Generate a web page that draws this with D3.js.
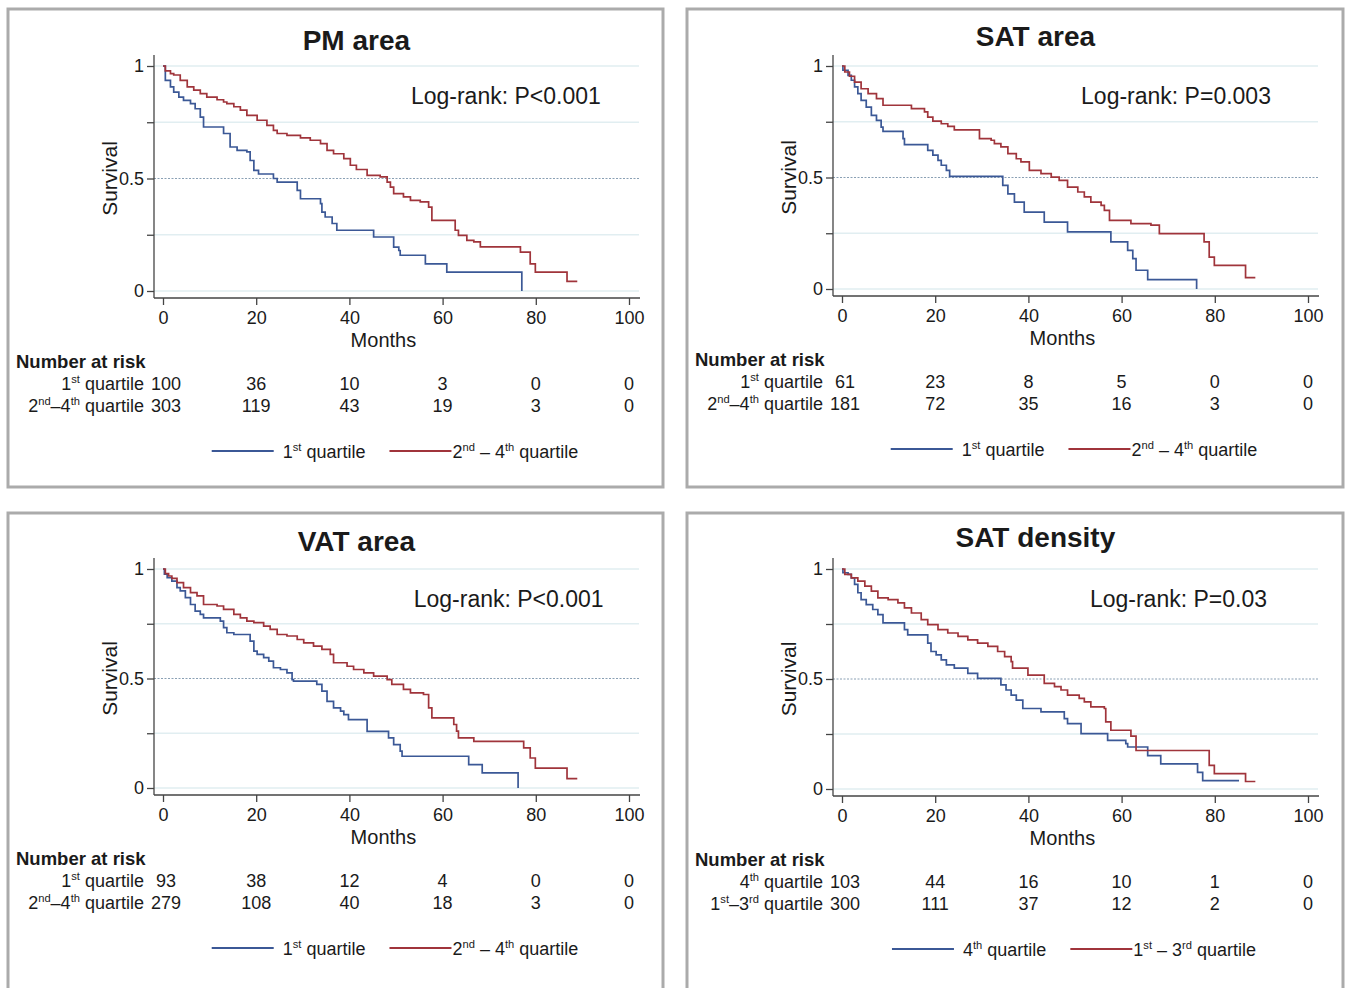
<!DOCTYPE html>
<html>
<head>
<meta charset="utf-8">
<script src="https://cdn.jsdelivr.net/npm/d3@7"></script>
<style>
  body { margin: 0; background: #fff; }
  svg { display: block; }
  text { font-family: "Liberation Sans", Arial, Helvetica, sans-serif; fill: #1a1a1a; }
</style>
</head>
<body>
<svg id="chart" width="1349" height="988"></svg>
<script>
// ---- data ----
const timeTicks = [0, 20, 40, 60, 80, 100];
const survTicks = [0, 0.25, 0.5, 0.75, 1];

const titles = ['PM area', 'SAT area', 'VAT area', 'SAT density'];
const pTexts = ['Log-rank: P<0.001', 'Log-rank: P=0.003', 'Log-rank: P<0.001', 'Log-rank: P=0.03'];

// {..} marks a superscript
const riskLabels = [
    ['1{st} quartile', '2{nd}–4{th} quartile'],
    ['1{st} quartile', '2{nd}–4{th} quartile'],
    ['1{st} quartile', '2{nd}–4{th} quartile'],
    ['4{th} quartile', '1{st}–3{rd} quartile']
];
const legendLabels = [
    ['1{st} quartile', '2{nd} – 4{th} quartile'],
    ['1{st} quartile', '2{nd} – 4{th} quartile'],
    ['1{st} quartile', '2{nd} – 4{th} quartile'],
    ['4{th} quartile', '1{st} – 3{rd} quartile']
];

const riskBlue = [
    [100, 36, 10, 3, 0, 0],
    [61, 23, 8, 5, 0, 0],
    [93, 38, 12, 4, 0, 0],
    [103, 44, 16, 10, 1, 0]
];
const riskRed = [
    [303, 119, 43, 19, 3, 0],
    [181, 72, 35, 16, 3, 0],
    [279, 108, 40, 18, 3, 0],
    [300, 111, 37, 12, 2, 0]
];

// [month, survival] step points
const pmBlue = [[0,1],[0.5,0.936],[1.6,0.907],[2.3,0.884],[3.4,0.862],[4.4,0.847],[5.9,0.833],[6.9,0.81],[8.0,0.773],[8.7,0.729],[13.0,0.70],[14.4,0.64],[15.9,0.625],[18.0,0.618],[18.7,0.58],[19.5,0.536],[20.5,0.52],[23.7,0.50],[24.5,0.484],[28.8,0.447],[29.5,0.41],[33.8,0.388],[34.1,0.351],[34.8,0.329],[36.3,0.30],[37.3,0.27],[45.2,0.24],[49.5,0.195],[50.6,0.18],[50.9,0.159],[56.3,0.121],[60.9,0.084],[77.0,0]];
const pmRed = [[0,1],[0.5,0.978],[1.6,0.966],[2.3,0.96],[3.7,0.936],[5.2,0.907],[6.6,0.893],[8.0,0.877],[9.4,0.862],[11.6,0.85],[13.0,0.84],[13.7,0.833],[15.2,0.819],[16.6,0.804],[18.0,0.781],[20.2,0.759],[22.3,0.736],[23.7,0.714],[24.5,0.70],[26.6,0.692],[29.5,0.681],[31.6,0.67],[33.8,0.655],[35.2,0.625],[36.6,0.61],[38.8,0.588],[40.2,0.559],[41.5,0.54],[43.8,0.514],[46.6,0.507],[48.1,0.484],[48.8,0.462],[49.5,0.433],[51.6,0.418],[53.1,0.403],[55.2,0.396],[57.0,0.373],[57.7,0.314],[62.7,0.27],[63.4,0.247],[65.2,0.225],[66.7,0.218],[68.1,0.196],[76.7,0.173],[78.8,0.121],[79.9,0.084],[86.7,0.043],[88.9,0.043]];

const satBlue = [[0,1],[0.2,0.981],[1.3,0.958],[2.0,0.936],[2.7,0.906],[3.4,0.876],[4.1,0.846],[5.2,0.816],[6.3,0.779],[7.4,0.756],[8.4,0.726],[8.8,0.707],[13.1,0.674],[13.4,0.647],[18.4,0.622],[19.5,0.60],[20.6,0.577],[21.3,0.555],[22.4,0.532],[23.1,0.505],[34.5,0.465],[35.6,0.427],[37.0,0.39],[39.1,0.345],[43.4,0.30],[48.4,0.256],[57.7,0.211],[61.3,0.173],[62.4,0.136],[63.1,0.084],[65.6,0.042],[76.1,0]];
const satRed = [[0,1],[0.6,0.973],[1.6,0.954],[2.7,0.928],[4.1,0.898],[5.6,0.876],[7.4,0.854],[8.8,0.824],[14.9,0.809],[17.7,0.794],[18.4,0.771],[19.5,0.753],[21.3,0.741],[22.7,0.729],[24.1,0.714],[29.5,0.674],[32.0,0.667],[32.7,0.652],[34.1,0.637],[35.6,0.607],[37.4,0.584],[38.4,0.57],[40.2,0.532],[42.7,0.517],[44.9,0.502],[46.6,0.487],[48.4,0.457],[50.6,0.435],[52.0,0.413],[53.4,0.39],[55.6,0.375],[56.3,0.353],[57.4,0.308],[62.0,0.293],[66.3,0.286],[68.1,0.248],[77.7,0.211],[78.8,0.143],[79.9,0.106],[86.6,0.051],[88.7,0.051]];

const vatBlue = [[0,1],[0.3,0.976],[0.9,0.96],[1.9,0.945],[3.0,0.915],[3.7,0.90],[4.8,0.869],[5.9,0.838],[6.9,0.808],[8.0,0.793],[8.7,0.777],[12.3,0.762],[13.0,0.732],[13.7,0.709],[15.2,0.701],[18.7,0.671],[19.5,0.625],[20.2,0.61],[21.6,0.595],[22.7,0.579],[23.7,0.549],[25.2,0.541],[26.6,0.526],[27.7,0.495],[28.0,0.488],[33.0,0.473],[34.1,0.442],[35.2,0.396],[36.6,0.366],[38.1,0.351],[38.8,0.335],[39.8,0.312],[43.8,0.259],[48.4,0.229],[49.5,0.198],[50.9,0.168],[51.3,0.145],[65.6,0.107],[68.5,0.069],[76.2,0]];
const vatRed = [[0,1],[0.5,0.979],[1.2,0.968],[1.9,0.957],[3.0,0.938],[4.4,0.915],[5.9,0.892],[7.3,0.877],[8.7,0.838],[11.6,0.831],[13.0,0.816],[15.2,0.793],[16.6,0.777],[18.0,0.762],[19.5,0.755],[21.6,0.739],[23.0,0.724],[24.5,0.701],[26.6,0.694],[28.8,0.678],[30.2,0.663],[32.3,0.648],[34.1,0.633],[35.9,0.61],[36.6,0.572],[39.5,0.556],[40.9,0.541],[43.1,0.526],[45.2,0.511],[48.1,0.495],[49.1,0.473],[51.6,0.45],[53.1,0.434],[55.9,0.427],[57.0,0.366],[57.7,0.32],[62.4,0.29],[63.0,0.26],[63.4,0.229],[66.7,0.213],[77.4,0.183],[78.8,0.137],[79.9,0.091],[86.7,0.043],[88.9,0.043]];

const densBlue = [[0,1],[0.2,0.983],[1.3,0.976],[2.0,0.96],[2.7,0.93],[3.4,0.892],[4.1,0.861],[5.2,0.838],[6.6,0.816],[7.7,0.793],[8.8,0.755],[13.4,0.724],[14.1,0.701],[18.4,0.663],[19.1,0.625],[20.2,0.61],[21.3,0.587],[22.4,0.564],[24.1,0.549],[27.0,0.526],[29.1,0.503],[34.1,0.473],[35.2,0.45],[36.3,0.427],[37.4,0.404],[38.8,0.366],[42.7,0.351],[47.7,0.32],[48.4,0.297],[51.3,0.252],[57.0,0.221],[60.9,0.206],[61.3,0.191],[65.6,0.152],[68.4,0.114],[76.3,0.076],[77.4,0.038],[85.2,0.038]];
const densRed = [[0,1],[0.6,0.976],[2.0,0.96],[3.4,0.945],[4.9,0.922],[6.3,0.899],[7.7,0.869],[9.9,0.861],[12.0,0.846],[13.4,0.823],[14.9,0.80],[17.0,0.77],[18.4,0.747],[20.6,0.724],[22.7,0.709],[24.9,0.694],[27.0,0.678],[29.1,0.663],[31.3,0.648],[33.4,0.625],[34.9,0.602],[36.3,0.579],[36.6,0.549],[39.9,0.518],[43.4,0.48],[45.6,0.465],[47.0,0.45],[48.4,0.427],[50.9,0.412],[52.0,0.396],[53.4,0.373],[56.3,0.366],[56.6,0.305],[57.7,0.267],[62.0,0.24],[63.1,0.175],[78.8,0.107],[79.9,0.07],[86.6,0.034],[88.7,0.034]];

const blueCurves = [pmBlue, satBlue, vatBlue, densBlue];
const redCurves = [pmRed, satRed, vatRed, densRed];

// ---- layout ----
const panels = [
    { x: 8,   y: 9,   w: 655, h: 478,  top: 66,  bottom: 291, titleY: 50,  pX: 53.2 },
    { x: 687, y: 9,   w: 656, h: 478,  top: 66,  bottom: 289, titleY: 46,  pX: 51.3 },
    { x: 8,   y: 513, w: 655, h: 490,  top: 569, bottom: 788, titleY: 551, pX: 53.8 },
    { x: 687, y: 513, w: 656, h: 490,  top: 569, bottom: 789, titleY: 547, pX: 53.2 }
];
const BLUE = '#3b5896';
const RED = '#a0343b';
const FS = 18;

const svg = d3.select('#chart');

const rich = (text, str, size) => {
    let up = false;
    str.split(/(\{[^}]*\})/).filter(s => s.length).forEach(part => {
        const sup = part[0] === '{';
        const t = text.append('tspan').text(sup ? part.slice(1, -1) : part);
        if (sup) {
            t.attr('font-size', size * 0.62).attr('dy', -size * 0.38);
            up = true;
        } else if (up) {
            t.attr('dy', size * 0.38);
            up = false;
        }
    });
    return text;
};

const drawPanel = (i) => {
    const p = panels[i];
    const g = svg.append('g');

    g.append('rect')
        .attr('x', p.x).attr('y', p.y)
        .attr('width', p.w).attr('height', p.h)
        .attr('fill', 'none').attr('stroke', '#ababab').attr('stroke-width', 3);

    const x = d3.scaleLinear().domain([0, 100]).range([p.x + 155, p.x + 621]);
    const y = d3.scaleLinear().domain([0, 1]).range([p.bottom, p.top]);
    const axisX = x(0) - 9;
    const axisY = y(0) + 7;
    const right = x(100) + 11;

    // grid lines
    g.selectAll('.grid')
        .data(survTicks)
        .enter().append('line')
            .attr('x1', axisX).attr('x2', right - 1)
            .attr('y1', d => y(d)).attr('y2', d => y(d))
            .attr('stroke', d => d === 0.5 ? '#8aa0b4' : '#e1eef1')
            .attr('stroke-width', d => d === 0.5 ? 1 : 1.4)
            .attr('stroke-dasharray', d => d === 0.5 ? '2,1.5' : null);

    // y axis
    const yAxis = g.append('g')
        .attr('transform', `translate(${axisX},0)`)
        .call(d3.axisLeft(y).tickValues(survTicks).tickSize(7).tickPadding(3)
            .tickFormat(d => (d === 0.25 || d === 0.75) ? '' : d3.format('')(d)));
    yAxis.select('.domain').remove();
    g.append('line')
        .attr('x1', axisX).attr('x2', axisX)
        .attr('y1', y(1) - 11).attr('y2', axisY)
        .attr('stroke', '#444').attr('stroke-width', 1.3);

    // x axis
    const xAxis = g.append('g')
        .attr('transform', `translate(0,${axisY})`)
        .call(d3.axisBottom(x).tickValues(timeTicks).tickSize(7).tickPadding(6));
    xAxis.select('.domain').remove();
    g.append('line')
        .attr('x1', axisX).attr('x2', right)
        .attr('y1', axisY).attr('y2', axisY)
        .attr('stroke', '#444').attr('stroke-width', 1.3);

    [yAxis, xAxis].forEach(a => {
        a.attr('font-family', null).attr('font-size', null);
        a.selectAll('.tick line').attr('stroke', '#444').attr('stroke-width', 1.3);
        a.selectAll('.tick text').attr('font-size', FS).attr('fill', '#1a1a1a');
    });

    // axis titles
    g.append('text')
        .attr('transform', `translate(${axisX - 37},${(y(0) + y(1)) / 2}) rotate(-90)`)
        .attr('text-anchor', 'middle')
        .attr('font-size', 21)
        .text('Survival');
    g.append('text')
        .attr('x', x(47.3)).attr('y', y(0) + 56)
        .attr('text-anchor', 'middle')
        .attr('font-size', 20)
        .text('Months');

    // title
    g.append('text')
        .attr('x', x(41.5)).attr('y', p.titleY)
        .attr('text-anchor', 'middle')
        .attr('font-size', 28).attr('font-weight', 'bold')
        .text(titles[i]);

    // log-rank
    g.append('text')
        .attr('x', x(p.pX)).attr('y', y(1) + 38)
        .attr('font-size', 23)
        .text(pTexts[i]);

    // curves
    const line = d3.line()
        .curve(d3.curveStepAfter)
        .x(d => x(d[0]))
        .y(d => y(d[1]));
    g.append('path')
        .datum(blueCurves[i])
        .attr('d', line)
        .attr('fill', 'none').attr('stroke', BLUE).attr('stroke-width', 1.7);
    g.append('path')
        .datum(redCurves[i])
        .attr('d', line)
        .attr('fill', 'none').attr('stroke', RED).attr('stroke-width', 1.7);

    // number at risk
    const base = y(0);
    g.append('text')
        .attr('x', p.x + 8).attr('y', base + 77)
        .attr('font-size', 18.5).attr('font-weight', 'bold')
        .text('Number at risk');
    [riskBlue[i], riskRed[i]].forEach((row, k) => {
        const ty = base + 99 + k * 22;
        rich(g.append('text')
            .attr('x', x(0) - 19).attr('y', ty)
            .attr('text-anchor', 'end')
            .attr('font-size', FS), riskLabels[i][k], FS);
        g.selectAll(null)
            .data(row)
            .enter().append('text')
                .attr('x', (d, j) => x(timeTicks[j]) + (j === 0 ? 3 : 0))
                .attr('y', ty)
                .attr('text-anchor', 'middle')
                .attr('font-size', FS)
                .text(d => d);
    });

    // legend
    const leg = g.append('g');
    let cx = 0;
    [BLUE, RED].forEach((c, k) => {
        leg.append('line')
            .attr('x1', cx).attr('x2', cx + 62)
            .attr('y1', 0).attr('y2', 0)
            .attr('stroke', c).attr('stroke-width', 2);
        cx += 62 + (k === 0 ? 9 : 1);
        const t = rich(leg.append('text')
            .attr('x', cx).attr('y', 6.5)
            .attr('font-size', FS), legendLabels[i][k], FS);
        cx += t.node().getComputedTextLength() + (k === 0 ? 24 : 0);
    });
    leg.attr('transform', `translate(${(x(0) + x(100)) / 2 - 1 - cx / 2},${base + 160})`);
};

d3.range(4).forEach(drawPanel);
</script>
</body>
</html>
